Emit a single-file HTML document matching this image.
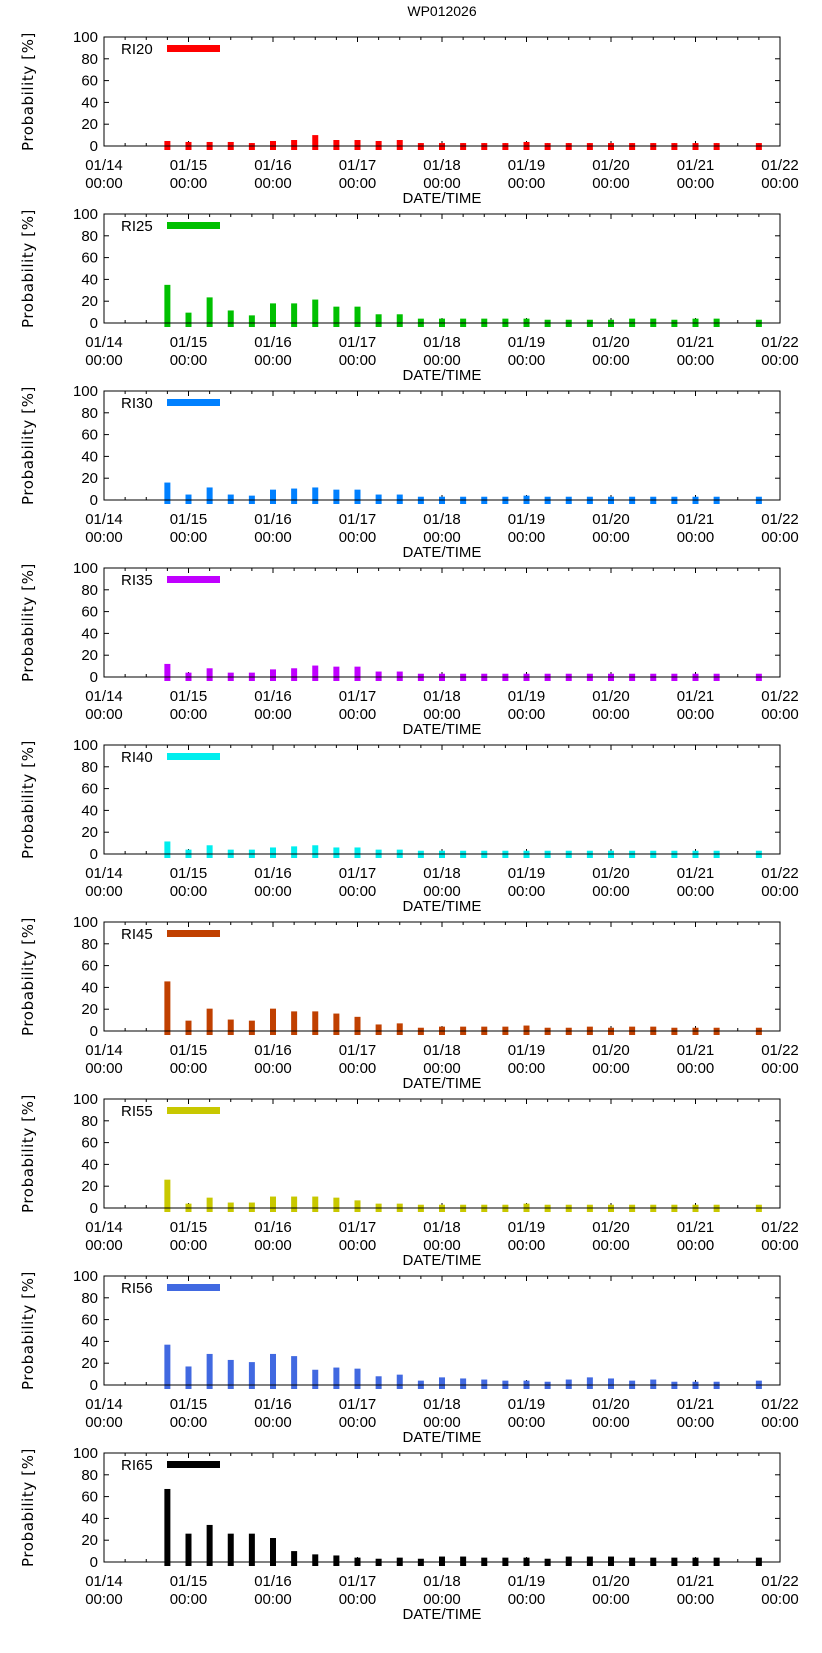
<!DOCTYPE html>
<html><head><meta charset="utf-8"><style>
html,body{margin:0;padding:0;background:#fff;}
svg{display:block;font-family:"Liberation Sans","DejaVu Sans",sans-serif;}
</style></head><body>
<svg id="chart" width="822" height="1653" viewBox="0 0 822 1653" xmlns="http://www.w3.org/2000/svg">
<text x="442" y="16" font-size="14" text-anchor="middle">WP012026</text>
</svg>
<script>
const hours = [18,24,30,36,42,48,54,60,66,72,78,84,90,96,102,108,114,120,126,132,138,144,150,156,162,168,174,186];
const xTickLabels = ["01/14","01/15","01/16","01/17","01/18","01/19","01/20","01/21","01/22"];
const yTicks = [0,20,40,60,80,100];
const seriesNames = ["RI20","RI25","RI30","RI35","RI40","RI45","RI55","RI56","RI65"];
const ri20 = [4.6,3.7,3.7,3.7,2.7,4.6,5.5,10,5.5,5.5,4.6,5.5,2.7,2.7,2.7,2.7,2.7,3.7,2.7,2.7,2.7,2.7,2.7,2.7,2.7,2.7,2.7,2.7];
const ri25 = [35,9.5,23.5,11.5,7,18,18,21.5,15,15,8,8,4,4,4,4,4,4,3,3,3,3,4,4,3,4,4,3];
const ri30 = [16,5,11.5,5,4,9.5,10.5,11.5,9.5,9.5,5,5,3,3,3,3,3,4,3,3,3,3,3,3,3,3,3,3];
const ri35 = [12,4,8,4,4,7,8,10.5,9.5,9.5,5,5,3,3,3,3,3,3,3,3,3,3,3,3,3,3,3,3];
const ri40 = [11.5,4,8,4,4,6,7,8,6,6,4,4,3,3,3,3,3,3,3,3,3,3,3,3,3,3,3,3];
const ri45 = [45.5,9.5,20.5,10.5,9.5,20.5,18,18,16,13,6,7,3,4,4,4,4,5,3,3,4,3,4,4,3,3,3,3];
const ri55 = [26,4,9.5,5,5,10.5,10.5,10.5,9.5,7,4,4,3,3,3,3,3,4,3,3,3,3,3,3,3,3,3,3];
const ri56 = [37,17,28.5,23,21,28.5,26.5,14,16,15,8,9.5,4,7,6,5,4,4,3,5,7,6,4,5,3,3,3,4];
const ri65 = [67,26,34,26,26,22,10,7,6,4,3,4,3,5,5,4,4,4,3,5,5,5,4,4,4,4,4,4];
const seriesValues = [ri20,ri25,ri30,ri35,ri40,ri45,ri55,ri56,ri65];
const colors = ["#ff0000","#00c000","#0080ff","#c000ff","#00eeee","#c04000","#c8c800","#4169e1","#000000"];

const NS = "http://www.w3.org/2000/svg";
const svg = document.getElementById('chart');
const L = 104, R = 780, H = 109, PITCH = 177, TOP0 = 37, TOTAL_H = 192;
function xScale(h){ return L + (R - L) * h / TOTAL_H; }
function mk(tag, attrs, parent){
  const e = document.createElementNS(NS, tag);
  for (const k in attrs) e.setAttribute(k, attrs[k]);
  parent.appendChild(e); return e;
}
seriesNames.forEach((name, p) => {
  const T = TOP0 + PITCH * p, B = T + H;
  const yScale = v => B - H * v / 100;
  const g = mk('g', {}, svg);
  
  
  for (let h = 6; h < TOTAL_H; h += 6) {
    const x = xScale(h);
    const len = (h % 24 === 0) ? 5 : 3;
    const t1 = mk('line', {x1:x, x2:x, y1:B, y2:B-len, stroke:'#000', 'stroke-width':1}, g);
    
    
    const t2 = mk('line', {x1:x, x2:x, y1:T, y2:T+len, stroke:'#000', 'stroke-width':1}, g);
    
    
  }
  yTicks.forEach(v => {
    const y = yScale(v);
    const a = mk('line', {x1:L, x2:L+5, y1:y, y2:y, stroke:'#000'}, g);
    
    
    const b = mk('line', {x1:R-5, x2:R, y1:y, y2:y, stroke:'#000'}, g);
    
    
    const t = mk('text', {x:L-6, y:y+5, 'font-size':15, 'text-anchor':'end'}, g);
    
    
    t.textContent = v;
  });
  xTickLabels.forEach((lab, i) => {
    const x = xScale(i * 24);
    const t = mk('text', {x:x, y:B+24, 'font-size':15, 'text-anchor':'middle'}, g);
    
    
    t.textContent = lab;
    const t2 = mk('text', {x:x, y:B+42, 'font-size':15, 'text-anchor':'middle'}, g);
    
    
    t2.textContent = '00:00';
  });
  const xt = mk('text', {x:(L+R)/2, y:B+57, 'font-size':15, 'text-anchor':'middle'}, g);
  
  
  xt.textContent = 'DATE/TIME';
  const yt = mk('text', {x:0, y:0, 'font-size':15, 'font-family':'"DejaVu Sans", sans-serif', 'letter-spacing':'0.6', 'text-anchor':'middle', transform:'translate(33,'+(T+H/2)+') rotate(-90)'}, g);
  
  
  yt.textContent = 'Probability [%]';
  const vals = seriesValues[p];
  hours.forEach((h, i) => {
    const x = xScale(h), y = yScale(vals[i]);
    const r = mk('rect', {x:x-3, y:y, width:6, height:(B+4)-y, fill:colors[p]}, g);
    
    
  });
  const fr = mk('rect', {x:L, y:T, width:R-L, height:H, fill:'none', stroke:'#000', 'stroke-width':1}, g);
  
  
  const lt = mk('text', {x:121, y:T+17, 'font-size':15}, g);
  
  
  lt.textContent = name;
  const ls = mk('rect', {x:167, y:T+8, width:53, height:7, fill:colors[p]}, g);
  
  
});
</script>
</body></html>
